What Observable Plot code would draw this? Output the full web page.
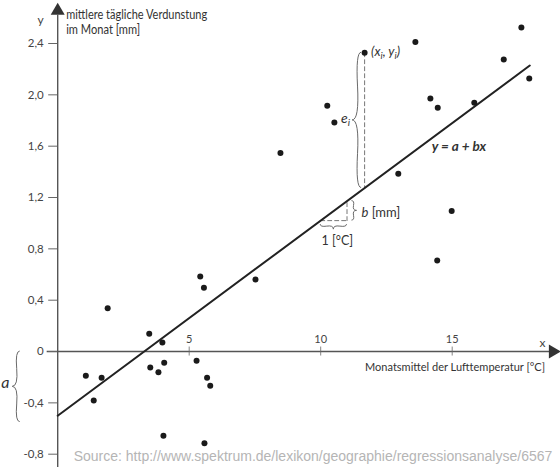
<!DOCTYPE html>
<html>
<head>
<meta charset="utf-8">
<script src="https://cdn.jsdelivr.net/npm/d3@7"></script>
<script src="https://cdn.jsdelivr.net/npm/@observablehq/plot@0.6"></script>
<style>
  html, body { margin: 0; padding: 0; background: #fff; }
  #chart { width: 560px; height: 467px; }
</style>
</head>
<body>
<div id="chart"></div>
<script>
// ---- data ----
const temp = [1.07, 1.37, 1.67, 1.90, 3.48, 3.52, 3.83, 3.98, 4.02, 4.05, 5.28, 5.42, 5.56, 5.58, 5.68, 5.80, 7.52, 8.47, 10.25, 10.52, 11.67, 12.95, 13.60, 14.17, 14.43, 14.45, 14.98, 15.84, 16.96, 17.63, 17.93];
const evap = [-0.189, -0.382, -0.205, 0.337, 0.138, -0.125, -0.161, 0.070, -0.657, -0.088, -0.072, 0.585, 0.497, -0.715, -0.205, -0.267, 0.561, 1.546, 1.915, 1.785, 2.328, 1.385, 2.411, 1.972, 0.709, 1.899, 1.094, 1.938, 2.276, 2.525, 2.128];
const highlightIndex = 20;           // the point labelled (x_i, y_i)
const interceptA = -0.5;             // a
const slopeB = 0.152;                // b
const lineRange = [0, 17.95];        // x extent of the regression line
const slopeStep = [10, 11];          // the "1 [°C]" step
const xTicks = [5, 10, 15];
const yTicks = [-0.8, -0.4, 0, 0.4, 0.8, 1.2, 1.6, 2.0, 2.4];
const yTitleLines = ["mittlere tägliche Verdunstung", "im Monat [mm]"];
const xTitle = "Monatsmittel der Lufttemperatur [°C]";
const source = "Source: http://www.spektrum.de/lexikon/geographie/regressionsanalyse/6567";

// ---- derived ----
const points = temp.map((t, i) => ({x: t, y: evap[i]}));
const fit = x => interceptA + slopeB * x;
const regLine = lineRange.map(x => ({x, y: fit(x)}));
const xi = temp[highlightIndex], yi = evap[highlightIndex];
const residual = [{x: xi, y: yi}, {x: xi, y: fit(xi)}];
const stepH = [{x: slopeStep[0], y: fit(slopeStep[0])}, {x: slopeStep[1], y: fit(slopeStep[0])}];
const stepV = [{x: slopeStep[1], y: fit(slopeStep[0])}, {x: slopeStep[1], y: fit(slopeStep[1])}];

const braceSpecs = [
  {x1: xi, y1: yi, x2: xi, y2: fit(xi), dx: -3, w: 9},                                   // e_i
  {x1: 0, y1: 0, x2: 0, y2: interceptA - 0.05, dx: -37.5, w: 7.5},                      // a
  {x1: slopeStep[1], y1: fit(slopeStep[0]), x2: slopeStep[1], y2: fit(slopeStep[1]), dx: 5, w: 5}, // b
  {x1: slopeStep[0], y1: fit(slopeStep[0]), x2: slopeStep[1], y2: fit(slopeStep[0]), dy: 4, w: 5}  // 1 °C
];

const richLabels = [
  // axis titles (condensed via textLength)
  {x: 0, y: 2.4, dx: 9, dy: -24, size: 12.5, length: 141, parts: [{t: yTitleLines[0]}]},
  {x: 0, y: 2.4, dx: 9, dy: -9, size: 12.5, length: 74, parts: [{t: yTitleLines[1]}]},
  {x: 18.55, y: 0, dx: 0, dy: 20, size: 11.5, length: 180, anchor: "end", parts: [{t: xTitle}]},
  // annotations
  {x: xi, y: yi, dx: 7, dy: 4, size: 13, italic: true,
   parts: [{t: "(x"}, {t: "i", sub: true}, {t: ", y"}, {t: "i", sub: true}, {t: ")"}]},
  {x: xi, y: (yi + fit(xi)) / 2, dx: -14, dy: 3, size: 14, anchor: "end", italic: true,
   parts: [{t: "e"}, {t: "i", sub: true}]},
  {x: slopeStep[1], y: (fit(slopeStep[0]) + fit(slopeStep[1])) / 2, dx: 15, dy: 7, size: 13,
   parts: [{t: "b", italic: true}, {t: " [mm]"}]},
  {x: (slopeStep[0] + slopeStep[1]) / 2, y: fit(slopeStep[0]), dx: 4, dy: 25, size: 12.5, anchor: "middle",
   parts: [{t: "1 [°C]"}]},
  {x: 14.24, y: fit(14.24), dx: 0, dy: 14, size: 13.5, italic: true, weight: 700,
   parts: [{t: "y = a + bx"}]},
  {x: 0, y: interceptA / 2, dx: -56, dy: 5, size: 16, italic: true, anchor: "start",
   parts: [{t: "a"}]}
];

// ---- helpers ----
function bracePath(x1, y1, x2, y2, w, q = 0.6) {
  let dx = x1 - x2, dy = y1 - y2;
  const len = Math.hypot(dx, dy);
  dx /= len; dy /= len;
  const qx1 = x1 + q * w * dy, qy1 = y1 - q * w * dx;
  const qx2 = (x1 - 0.25 * len * dx) + (1 - q) * w * dy, qy2 = (y1 - 0.25 * len * dy) - (1 - q) * w * dx;
  const tx1 = (x1 - 0.5 * len * dx) + w * dy, ty1 = (y1 - 0.5 * len * dy) - w * dx;
  const qx3 = x2 + q * w * dy, qy3 = y2 - q * w * dx;
  const qx4 = (x1 - 0.75 * len * dx) + (1 - q) * w * dy, qy4 = (y1 - 0.75 * len * dy) - (1 - q) * w * dx;
  return `M${x1},${y1}Q${qx1},${qy1} ${qx2},${qy2}T${tx1},${ty1}M${x2},${y2}Q${qx3},${qy3} ${qx4},${qy4}T${tx1},${ty1}`;
}
const NS = "http://www.w3.org/2000/svg";
function braceMark(specs) {
  return (index, scales) => {
    const g = document.createElementNS(NS, "g");
    for (const s of specs) {
      const p = document.createElementNS(NS, "path");
      const ox = s.dx || 0, oy = s.dy || 0;
      p.setAttribute("d", bracePath(scales.x(s.x1) + ox, scales.y(s.y1) + oy, scales.x(s.x2) + ox, scales.y(s.y2) + oy, s.w));
      p.setAttribute("fill", "none");
      p.setAttribute("stroke", "#6a6a6a");
      p.setAttribute("stroke-width", 1);
      g.appendChild(p);
    }
    return g;
  };
}
function richTextMark(items) {
  return (index, scales) => {
    const g = document.createElementNS(NS, "g");
    for (const it of items) {
      const t = document.createElementNS(NS, "text");
      t.setAttribute("x", scales.x(it.x) + (it.dx || 0));
      t.setAttribute("y", scales.y(it.y) + (it.dy || 0));
      t.setAttribute("text-anchor", it.anchor || "start");
      t.setAttribute("font-size", it.size);
      t.setAttribute("fill", "#333");
      if (it.length) { t.setAttribute("textLength", it.length); t.setAttribute("lengthAdjust", "spacingAndGlyphs"); }
      if (it.italic) t.setAttribute("font-style", "italic");
      if (it.weight) t.setAttribute("font-weight", it.weight);
      let shift = 0;
      for (const part of it.parts) {
        const s = document.createElementNS(NS, "tspan");
        s.textContent = part.t;
        const want = part.sub ? 3 : 0;
        if (want !== shift) { s.setAttribute("dy", want - shift); shift = want; }
        if (part.sub) s.setAttribute("font-size", it.size * 0.72);
        if (part.italic) s.setAttribute("font-style", "italic");
        t.appendChild(s);
      }
      g.appendChild(t);
    }
    return g;
  };
}
const fmt = d => d === 0 ? "0" : d.toFixed(1).replace(".", ",");

// ---- plot ----
const chart = Plot.plot({
  width: 560,
  height: 467,
  marginLeft: 57.2,
  marginTop: 0,
  marginRight: 0,
  marginBottom: 0,
  style: {fontFamily: "Lato, 'Open Sans', sans-serif", fontSize: "11px", color: "#333", background: "#fff"},
  x: {domain: [0, 15], range: [57.2, 57.2 + 15 * 26.3], axis: null},
  y: {domain: [-0.8, 2.4], range: [453.7, 43], axis: null},
  marks: [
    // axes
    Plot.ruleX([0], {y1: -0.91, y2: 2.62, stroke: "#555", strokeWidth: 1.4}),
    Plot.ruleY([0], {x1: -0.4, x2: 18.7, stroke: "#555", strokeWidth: 1.4}),
    Plot.dot([{x: 0, y: 2.655}], {x: "x", y: "y", symbol: "triangle", r: 5.2, fill: "#333", stroke: null}),
    Plot.dot([{x: 18.83, y: 0}], {x: "x", y: "y", symbol: "triangle", r: 5.2, rotate: 90, fill: "#333", stroke: null}),
    Plot.axisY({ticks: yTicks, tickFormat: fmt, tickSize: 9, tickPadding: 5, stroke: "#666", fill: "#444", fontSize: 11.5, label: null}),
    Plot.ruleX(xTicks, {y1: -0.035, y2: 0.035, stroke: "#666", strokeWidth: 0.8}),
    Plot.text(xTicks, {x: d => d, y: 0, text: d => String(d), dy: -12, fill: "#444", fontSize: 11}),
    Plot.text(["y"], {x: 0, y: 2.4, text: d => d, dx: -17, dy: -23, fill: "#444", fontSize: 12}),
    Plot.text(["x"], {x: 18.43, y: 0, text: d => d, dy: -8, fill: "#444", fontSize: 12}),
    // annotations
    Plot.line(residual, {x: "x", y: "y", stroke: "#777", strokeWidth: 1, strokeDasharray: "4,3"}),
    Plot.line(stepH, {x: "x", y: "y", stroke: "#777", strokeWidth: 1, strokeDasharray: "4,3"}),
    Plot.line(stepV, {x: "x", y: "y", stroke: "#777", strokeWidth: 1, strokeDasharray: "4,3"}),
    braceMark(braceSpecs),
    // regression line
    Plot.line(regLine, {x: "x", y: "y", stroke: "#222", strokeWidth: 2}),
    // data
    Plot.dot(points, {x: "x", y: "y", r: 3, fill: "#1a1a1a", stroke: null}),
    richTextMark(richLabels),
    // source
    Plot.text([source], {frameAnchor: "bottom-left", text: d => d, dx: 16, dy: -7, textAnchor: "start", fill: "#b5b5b5", fontSize: 14, fontFamily: "'Liberation Sans', Arial, sans-serif"})
  ]
});
document.getElementById("chart").appendChild(chart);
</script>
</body>
</html>
